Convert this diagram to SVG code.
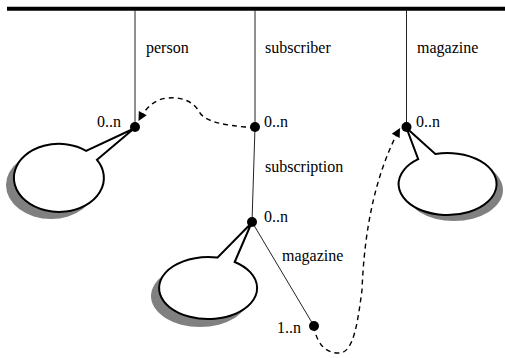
<svg xmlns="http://www.w3.org/2000/svg" width="505" height="358" viewBox="0 0 505 358">
  <style>
    .lbl { font-family: "Liberation Serif", "Times New Roman", serif; font-size: 16px; fill: #000; }
    .edge { stroke: #222; stroke-width: 1; fill: none; }
    .link { stroke: #000; stroke-width: 1.4; fill: none; stroke-dasharray: 5 4; }
    .dot { fill: #000; }
    .bubble { fill: #fff; stroke: #000; stroke-width: 2; stroke-linejoin: miter; }
    .shadow { fill: #808080; }
  </style>
  <defs>
    <marker id="arrow" viewBox="0 0 10 10" refX="10" refY="5" markerWidth="11" markerHeight="9" markerUnits="userSpaceOnUse" orient="auto">
      <path d="M0,0 L10,5 L0,10 z" fill="#000"/>
    </marker>
  </defs>

  <rect width="505" height="358" fill="#fff"/>

  <!-- root bar -->
  <line x1="7" y1="8.7" x2="505" y2="8.7" stroke="#000" stroke-width="4"/>

  <g id="connectors">
    <line class="edge" x1="135" y1="10" x2="135" y2="127"/>
    <line class="edge" x1="255" y1="10" x2="255" y2="127"/>
    <line class="edge" x1="406.5" y1="10" x2="406.5" y2="127"/>
    <line class="edge" x1="255" y1="127" x2="252" y2="222"/>
    <line class="edge" x1="252" y1="222" x2="314" y2="326"/>
    <path class="link" d="M 255 127 L 245 127 C 225 125, 206 122, 200 113 C 193 100, 180 97, 168 98 C 155 99, 146 107, 138.5 121" marker-end="url(#arrow)"/>
    <path class="link" d="M 314 326 C 316 342, 325 354, 340 353 C 354 352, 358 320, 362 290 C 364 240, 372 180, 400 128" marker-end="url(#arrow)"/>
  </g>

  <g id="person">
    <text class="lbl" x="146" y="53">person</text>
    <text class="lbl" x="97" y="127">0..n</text>
    <ellipse class="shadow" cx="51" cy="185" rx="45" ry="34"/>
    <path class="bubble" d="M 97 159.8 L 134 128.5 L 86.1 150.8 A 45 34 0 1 0 97 159.8 Z"/>
    <circle class="dot" cx="135" cy="127" r="5"/>
  </g>

  <g id="subscriber">
    <text class="lbl" x="265" y="53">subscriber</text>
    <text class="lbl" x="264" y="127">0..n</text>
    <circle class="dot" cx="255" cy="127" r="5"/>
  </g>

  <g id="subscription">
    <text class="lbl" x="265" y="172">subscription</text>
    <text class="lbl" x="264" y="222">0..n</text>
    <ellipse class="shadow" cx="200" cy="296" rx="49" ry="31"/>
    <path class="bubble" d="M 234.7 262 L 251.5 223 L 217.4 257.6 A 49 31 0 1 0 234.7 262 Z"/>
    <circle class="dot" cx="252" cy="222" r="5"/>
  </g>

  <g id="subscription-magazine">
    <text class="lbl" x="282" y="261">magazine</text>
    <text class="lbl" x="277" y="333">1..n</text>
    <circle class="dot" cx="314" cy="326" r="5"/>
  </g>

  <g id="magazine">
    <text class="lbl" x="417" y="53">magazine</text>
    <text class="lbl" x="416" y="127">0..n</text>
    <ellipse class="shadow" cx="454" cy="190" rx="49" ry="31"/>
    <path class="bubble" d="M 418.2 159.2 L 406.5 128 L 435.3 154 A 49 31 0 1 1 418.2 159.2 Z"/>
    <circle class="dot" cx="406.5" cy="127" r="5"/>
  </g>
</svg>
